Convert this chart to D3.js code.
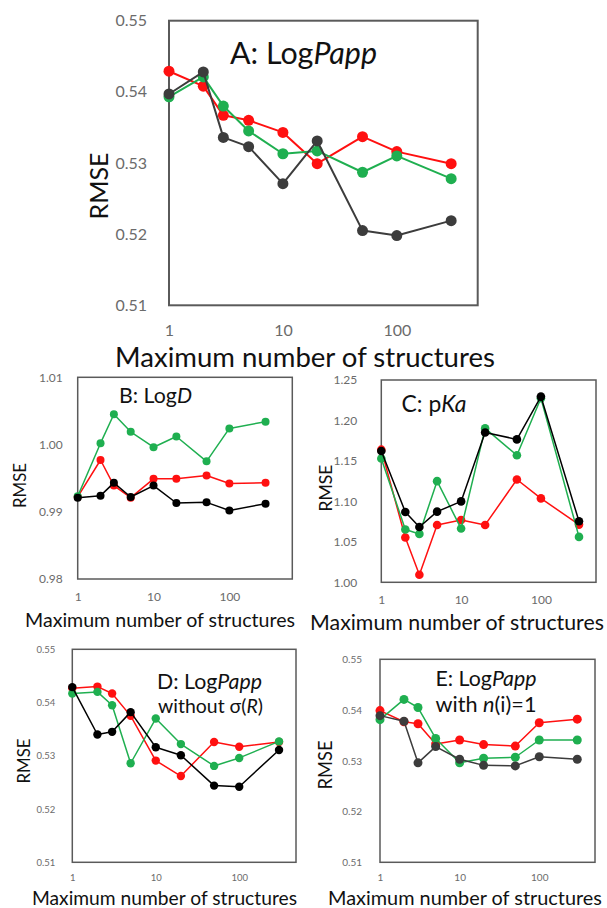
<!DOCTYPE html>
<html><head><meta charset="utf-8">
<script src="https://cdn.jsdelivr.net/npm/d3@7"></script>
<style>body{margin:0;background:#fff} svg{display:block}</style>
</head><body>
<svg id="chart" width="607" height="908"></svg>
<script>
// ---------- data ----------
const xValues = [1, 2, 3, 5, 10, 20, 50, 100, 300];
const xTickValues = [1, 10, 100];

const aRed   = [0.5429, 0.5408, 0.5367, 0.5360, 0.5343, 0.5299, 0.5337, 0.5316, 0.5299];
const aGreen = [0.5393, 0.5421, 0.5380, 0.5345, 0.5313, 0.5317, 0.5287, 0.5310, 0.5278];
const aBlack = [0.5397, 0.5428, 0.5336, 0.5323, 0.5271, 0.5331, 0.5205, 0.5198, 0.5219];

const bRed   = [0.9922, 0.9977, 0.9939, 0.9921, 0.9949, 0.9949, 0.9954, 0.9942, 0.9943];
const bGreen = [0.9923, 1.0002, 1.0045, 1.0019, 0.9996, 1.0012, 0.9975, 1.0024, 1.0034];
const bBlack = [0.9921, 0.9924, 0.9943, 0.9922, 0.9939, 0.9913, 0.9914, 0.9902, 0.9912];

const cRed   = [1.1639, 1.0553, 1.0094, 1.0709, 1.0770, 1.0709, 1.1270, 1.1037, 1.0713];
const cGreen = [1.1529, 1.0652, 1.0598, 1.1250, 1.0664, 1.1902, 1.1570, 1.2275, 1.0561];
const cBlack = [1.1623, 1.0869, 1.0684, 1.0873, 1.1000, 1.1852, 1.1766, 1.2295, 1.0754];

const dRed   = [0.5427, 0.5430, 0.5417, 0.5375, 0.5291, 0.5262, 0.5326, 0.5317, 0.5326];
const dGreen = [0.5417, 0.5420, 0.5395, 0.5286, 0.5370, 0.5322, 0.5281, 0.5296, 0.5327];
const dBlack = [0.5429, 0.5340, 0.5345, 0.5382, 0.5316, 0.5301, 0.5244, 0.5242, 0.5311];

const eRed   = [0.5399, 0.5377, 0.5373, 0.5333, 0.5341, 0.5332, 0.5329, 0.5375, 0.5382];
const eGreen = [0.5381, 0.5421, 0.5405, 0.5344, 0.5296, 0.5305, 0.5307, 0.5341, 0.5341];
const eBlack = [0.5389, 0.5378, 0.5296, 0.5328, 0.5303, 0.5291, 0.5290, 0.5308, 0.5303];

const yTicksPapp = [0.51, 0.52, 0.53, 0.54, 0.55];
const yTicksLogD = [0.98, 0.99, 1.00, 1.01];
const yTicksPKa  = [1.00, 1.05, 1.10, 1.15, 1.20, 1.25];

const xAxisTitle = "Maximum number of structures";
const yAxisTitle = "RMSE";

// ---------- layout / style ----------
const RED = "#ff1010", GREEN = "#1faf50", DARK = "#3c3c3c", BLACK = "#000000";
const FONT = "Lato, 'Open Sans', sans-serif";

const panels = [
  { series: [aRed, aGreen, aBlack], colors: [RED, GREEN, DARK], yTicks: yTicksPapp,
    box: {l: 169, r: 477.7, t: 20.7, b: 305.3}, xMax: 513, r: 5.5, lw: 2, boxW: 2,
    tickFont: 16, yPad: 22, xTickY: 330,
    xTitle: {y: 356, w: 380, cx: 305}, yTitle: {x: 98, y: 186, w: 67},
    title: [{cx: 303.5, y: 52, w: 147, parts: [["A: Log", false], ["Papp", true]]}] },
  { series: [bRed, bGreen, bBlack], colors: [RED, GREEN, BLACK], yTicks: yTicksLogD,
    box: {l: 77.7, r: 292.3, t: 377.3, b: 579}, xMax: 676, r: 4, lw: 1.5, boxW: 1.5,
    tickFont: 12, yPad: 15, xTickY: 597,
    xTitle: {y: 619, w: 270, cx: 160}, yTitle: {x: 19.5, y: 485.5, w: 45},
    title: [{cx: 155.5, y: 395, w: 73, parts: [["B: Log", false], ["D", true]]}] },
  { series: [cRed, cGreen, cBlack], colors: [RED, GREEN, BLACK], yTicks: yTicksPKa,
    box: {l: 381.3, r: 596, t: 380, b: 582.3}, xMax: 490, r: 4.3, lw: 1.5, boxW: 1.5,
    tickFont: 12, yPad: 24, xTickY: 600,
    xTitle: {y: 622, w: 294, cx: 457}, yTitle: {x: 325, y: 488, w: 47},
    title: [{cx: 434, y: 403, w: 65, parts: [["C: p", false], ["Ka", true]]}] },
  { series: [dRed, dGreen, dBlack], colors: [RED, GREEN, BLACK], yTicks: yTicksPapp,
    box: {l: 72.3, r: 296, t: 649.3, b: 862.3}, xMax: 479, r: 4.2, lw: 1.5, boxW: 1.5,
    tickFont: 9.5, yPad: 17, xTickY: 878,
    xTitle: {y: 897, w: 265, cx: 164.5}, yTitle: {x: 23.5, y: 761, w: 45},
    title: [{cx: 209.5, y: 681, w: 105, parts: [["D: Log", false], ["Papp", true]]},
            {cx: 210.5, y: 705, w: 105, parts: [["without\u00a0σ(", false], ["R", true], [")", false]]}] },
  { series: [eRed, eGreen, eBlack], colors: [RED, GREEN, DARK], yTicks: yTicksPapp,
    box: {l: 380, r: 595, t: 659.3, b: 862.3}, xMax: 501, r: 4.5, lw: 1.5, boxW: 1.5,
    tickFont: 10, yPad: 18, xTickY: 878,
    xTitle: {y: 897, w: 274, cx: 465}, yTitle: {x: 325, y: 765, w: 49},
    title: [{cx: 486, y: 678, w: 101, parts: [["E: Log", false], ["Papp", true]]},
            {cx: 486, y: 704, w: 101, parts: [["with\u00a0", false], ["n", true], ["(i)=1", false]]}] }
];

const svg = d3.select("#chart");
svg.append("rect").attr("width", 607).attr("height", 908).attr("fill", "#fff");

function fitText(sel, target) {
  const base = +sel.attr("font-size");
  const w = sel.node().getComputedTextLength();
  if (w > 0) sel.attr("font-size", base * target / w);
}

// title made of separate text pieces (normal / italic), fitted to a width and centred
function richTitle(g, t) {
  const base = 16;
  const pieces = t.parts.map(([txt, it]) =>
    g.append("text").attr("y", t.y).attr("dominant-baseline", "central")
      .attr("xml:space", "preserve").style("white-space", "pre")
      .attr("font-family", FONT).attr("font-size", base).attr("fill", "#111")
      .attr("font-style", it ? "italic" : "normal").text(txt));
  const total = d3.sum(pieces, p => p.node().getComputedTextLength());
  const fs = base * t.w / total;
  pieces.forEach(p => p.attr("font-size", fs));
  const widths = pieces.map(p => p.node().getComputedTextLength());
  let x0 = t.cx - d3.sum(widths) / 2;
  pieces.forEach((p, i) => { p.attr("x", x0); x0 += widths[i]; });
}

panels.forEach(p => {
  const g = svg.append("g");
  const x = d3.scaleLog().domain([1, p.xMax]).range([p.box.l, p.box.r]);
  const y = d3.scaleLinear().domain(d3.extent(p.yTicks)).range([p.box.b, p.box.t]);

  // frame
  g.append("rect")
    .attr("x", p.box.l).attr("y", p.box.t)
    .attr("width", p.box.r - p.box.l).attr("height", p.box.b - p.box.t)
    .attr("fill", "none").attr("stroke", "#5a5a5a").attr("stroke-width", p.boxW);

  // y axis
  const ya = g.append("g").attr("transform", `translate(${p.box.l},0)`)
    .call(d3.axisLeft(y).tickValues(p.yTicks).tickFormat(d3.format(".2f")).tickSize(0).tickPadding(p.yPad));
  ya.select(".domain").remove();
  ya.selectAll("text").attr("font-family", FONT).attr("font-size", p.tickFont).attr("fill", "#6b6b6b");

  // x axis
  const xa = g.append("g").attr("transform", `translate(0,${p.box.b})`)
    .call(d3.axisBottom(x).tickValues(xTickValues).tickFormat(d3.format("d")).tickSize(0));
  xa.select(".domain").remove();
  xa.selectAll("text").attr("font-family", FONT).attr("font-size", p.tickFont).attr("fill", "#6b6b6b")
    .attr("y", p.xTickY - p.box.b).attr("dy", "0.35em");

  // series
  const line = d3.line().x((d, i) => x(xValues[i])).y(d => y(d));
  p.series.forEach((s, k) => {
    g.append("path").datum(s).attr("d", line).attr("fill", "none")
      .attr("stroke", p.colors[k]).attr("stroke-width", p.lw).attr("stroke-linejoin", "round");
    g.selectAll(null).data(s).enter().append("circle")
      .attr("cx", (d, i) => x(xValues[i])).attr("cy", d => y(d)).attr("r", p.r)
      .attr("fill", p.colors[k]);
  });

  // axis titles
  const xt = g.append("text").attr("x", p.xTitle.cx).attr("y", p.xTitle.y)
    .attr("text-anchor", "middle").attr("dominant-baseline", "central")
    .attr("font-family", FONT).attr("font-size", 20).attr("fill", "#111").text(xAxisTitle);
  fitText(xt, p.xTitle.w);
  const yt = g.append("text").attr("text-anchor", "middle").attr("dominant-baseline", "central")
    .attr("transform", `translate(${p.yTitle.x},${p.yTitle.y}) rotate(-90)`)
    .attr("font-family", FONT).attr("font-size", 20).attr("fill", "#111").text(yAxisTitle);
  fitText(yt, p.yTitle.w);

  // panel titles
  p.title.forEach(t => richTitle(g, t));
});
</script>
</body></html>
